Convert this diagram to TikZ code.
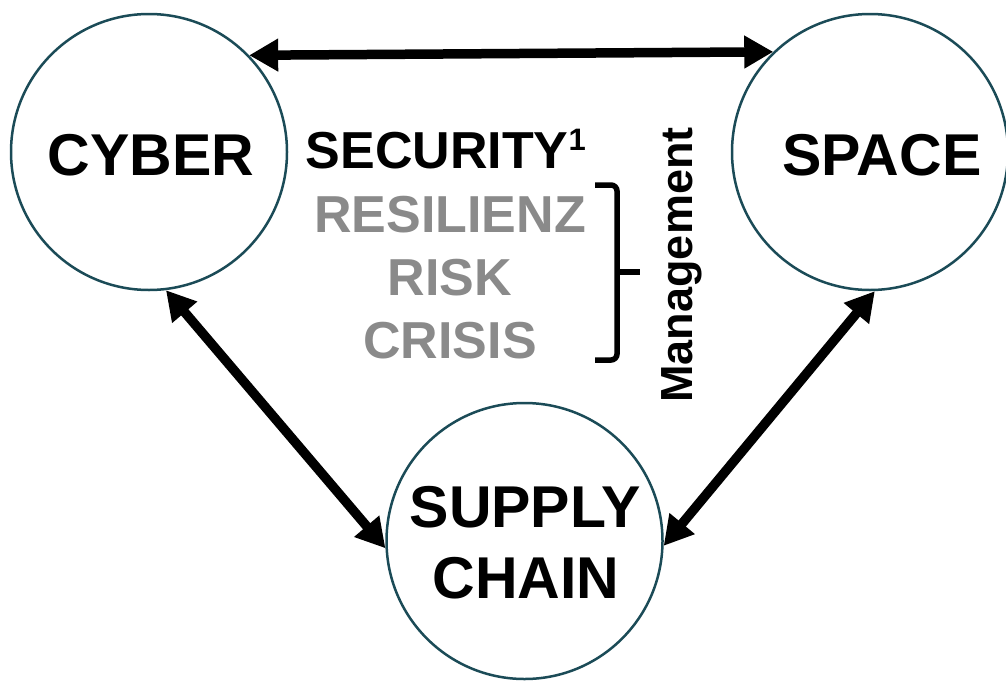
\documentclass[tikz,border=0pt]{standalone}
\usepackage{fontspec}
\setmainfont{Liberation Sans}
\usetikzlibrary{arrows.meta}
\definecolor{ringc}{HTML}{1B4B57}
\definecolor{greyt}{HTML}{8A8A8A}
\begin{document}
\begin{tikzpicture}[x=1pt,y=-1pt,
  ring/.style={circle,draw=ringc,line width=2.5pt,minimum size=276pt,inner sep=0pt,fill=white},
  big/.style={font=\fontsize{59}{59}\selectfont\bfseries,inner sep=0pt,anchor=base},
  mid/.style={font=\fontsize{52}{52}\selectfont\bfseries,inner sep=0pt,anchor=base},
  conn/.style={line width=9.5pt,{Triangle[length=29pt,width=31pt]}-{Triangle[length=29pt,width=31pt]}},
  brace/.style={line width=5.5pt,rounded corners=6pt}]
\useasboundingbox (0,0) rectangle (1006,680);
\node[ring] (cyber) at (149,152) {};
\node[ring] (space) at (870,152) {};
\node[ring] (supply) at (524.5,541) {};
\node[big] (tcyber) at (151,175) {CYBER};
\node[big] (tspace) at (882,175) {SPACE};
\node[big] (tsupply) at (525,527) {SUPPLY};
\node[big] (tchain) at (526,598) {CHAIN};
\node[mid,anchor=base west] (tsec) at (305.5,168) {SECURITY\raisebox{18pt}{\fontsize{31}{31}\selectfont 1}};
\node[mid,text=greyt] (tres) at (450,232) {RESILIENZ};
\node[mid,text=greyt] (trisk) at (450,295) {RISK};
\node[mid,text=greyt] (tcrisis) at (450,358) {CRISIS};
\node[font=\fontsize{45}{45}\selectfont\bfseries,inner sep=0pt,anchor=base,rotate=90] (tman) at (692,265) {Management};
\draw[brace] (595,185) -- (617,185) -- (617,272) -- (617,360) -- (595,360);
\draw[line width=5.5pt] (617,272) -- (640,272);
\draw[conn] (cyber.44) -- (space.134);
\draw[conn] (cyber.-83.5) -- (supply.-177.6);
\draw[conn] (space.-88.8) -- (supply.-2.9);
\end{tikzpicture}
\end{document}
